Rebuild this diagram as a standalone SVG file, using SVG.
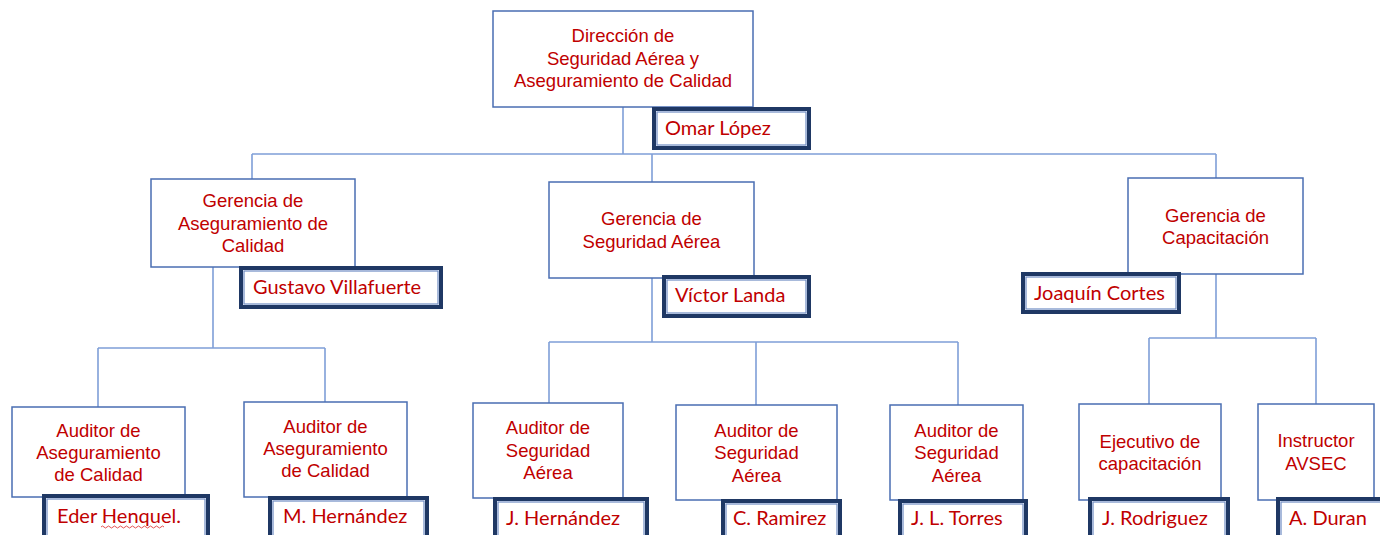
<svg xmlns="http://www.w3.org/2000/svg" width="1380" height="535" viewBox="0 0 1380 535">
<style>
  .box { fill: #ffffff; stroke: #4a6eb2; stroke-width: 1.5; }
  .nb-out { fill: #ffffff; stroke: #1f3864; stroke-width: 4; }
  .nb-in { fill: none; stroke: #6f8cc4; stroke-width: 1.2; }
  .t { font-family: "Liberation Sans", Arial, sans-serif; font-size: 18.5px; fill: #c00000; text-anchor: middle; }
  .n { font-family: Lato, "Liberation Sans", sans-serif; font-size: 20px; fill: #c00000; }
  .c { fill: none; stroke: #7f9fd8; stroke-width: 1.6; }
</style>
<rect width="1380" height="535" fill="#ffffff"/>

<g id="connectors">
  <path class="c" d="M623 107 V154 M252 154 H1216 M252 154 V179 M652 154 V182 M1216 154 V178"/>
  <path class="c" d="M213 267 V348 M98 348 H325 M98 348 V407 M325 348 V402"/>
  <path class="c" d="M652 278 V342 M549 342 H958 M549 342 V403 M756 342 V405 M958 342 V405"/>
  <path class="c" d="M1216 274 V338 M1149 338 H1316 M1149 338 V404 M1316 338 V404"/>
</g>

<g id="direccion">
  <rect class="box" x="493" y="11" width="260" height="96"/>
  <text class="t" x="623" y="42">Dirección de</text>
  <text class="t" x="623" y="64.5">Seguridad Aérea y</text>
  <text class="t" x="623" y="87">Aseguramiento de Calidad</text>
</g>
<g id="name-omar">
  <rect class="nb-out" x="654" y="109" width="155" height="39"/>
  <rect class="nb-in" x="657" y="112" width="149" height="33"/>
  <text class="n" x="665" y="135">Omar López</text>
</g>

<g id="gerencia-aseguramiento">
  <rect class="box" x="151" y="179" width="204" height="88"/>
  <text class="t" x="253" y="207">Gerencia de</text>
  <text class="t" x="253" y="229.5">Aseguramiento de</text>
  <text class="t" x="253" y="252">Calidad</text>
</g>
<g id="name-gustavo">
  <rect class="nb-out" x="241" y="268" width="200" height="39"/>
  <rect class="nb-in" x="244" y="271" width="194" height="33"/>
  <text class="n" x="253" y="294">Gustavo Villafuerte</text>
</g>

<g id="gerencia-seguridad">
  <rect class="box" x="549" y="182" width="205" height="96"/>
  <text class="t" x="651.5" y="225">Gerencia de</text>
  <text class="t" x="651.5" y="248">Seguridad Aérea</text>
</g>
<g id="name-victor">
  <rect class="nb-out" x="664" y="277" width="145" height="39"/>
  <rect class="nb-in" x="667" y="280" width="139" height="33"/>
  <text class="n" x="675" y="302">Víctor Landa</text>
</g>

<g id="gerencia-capacitacion">
  <rect class="box" x="1128" y="178" width="175" height="96"/>
  <text class="t" x="1215.5" y="222">Gerencia de</text>
  <text class="t" x="1215.5" y="244">Capacitación</text>
</g>
<g id="name-joaquin">
  <rect class="nb-out" x="1023" y="274" width="156" height="38"/>
  <rect class="nb-in" x="1026" y="277" width="150" height="32"/>
  <text class="n" x="1034" y="300">Joaquín Cortes</text>
</g>

<g id="auditor-aseg-1">
  <rect class="box" x="12" y="407" width="173" height="90"/>
  <text class="t" x="98.5" y="437">Auditor de</text>
  <text class="t" x="98.5" y="459">Aseguramiento</text>
  <text class="t" x="98.5" y="481">de Calidad</text>
</g>
<g id="name-eder">
  <rect class="nb-out" x="44" y="496" width="164" height="50"/>
  <rect class="nb-in" x="47" y="499" width="158" height="44"/>
  <text class="n" x="57" y="523">Eder Henquel.</text>
  <path d="M101 527 q1.5 -2 3 0 t3 0 t3 0 t3 0 t3 0 t3 0 t3 0 t3 0 t3 0 t3 0 t3 0 t3 0 t3 0 t3 0 t3 0 t3 0 t3 0 t3 0 t3 0 t3 0 t3 0" fill="none" stroke="#e04040" stroke-width="0.9"/>
</g>

<g id="auditor-aseg-2">
  <rect class="box" x="244" y="402" width="163" height="95"/>
  <text class="t" x="325.5" y="433">Auditor de</text>
  <text class="t" x="325.5" y="455">Aseguramiento</text>
  <text class="t" x="325.5" y="477">de Calidad</text>
</g>
<g id="name-mhernandez">
  <rect class="nb-out" x="270" y="498" width="157" height="48"/>
  <rect class="nb-in" x="273" y="501" width="151" height="42"/>
  <text class="n" x="283" y="523">M. Hernández</text>
</g>

<g id="auditor-seg-1">
  <rect class="box" x="473" y="403" width="150" height="95"/>
  <text class="t" x="548" y="434">Auditor de</text>
  <text class="t" x="548" y="457">Seguridad</text>
  <text class="t" x="548" y="479">Aérea</text>
</g>
<g id="name-jhernandez">
  <rect class="nb-out" x="495" y="499" width="152" height="47"/>
  <rect class="nb-in" x="498" y="502" width="146" height="41"/>
  <text class="n" x="506" y="525">J. Hernández</text>
</g>

<g id="auditor-seg-2">
  <rect class="box" x="676" y="405" width="161" height="95"/>
  <text class="t" x="756.5" y="437">Auditor de</text>
  <text class="t" x="756.5" y="459">Seguridad</text>
  <text class="t" x="756.5" y="482">Aérea</text>
</g>
<g id="name-cramirez">
  <rect class="nb-out" x="723" y="501" width="117" height="45"/>
  <rect class="nb-in" x="726" y="504" width="111" height="39"/>
  <text class="n" x="733" y="525">C. Ramirez</text>
</g>

<g id="auditor-seg-3">
  <rect class="box" x="890" y="405" width="133" height="95"/>
  <text class="t" x="956.5" y="437">Auditor de</text>
  <text class="t" x="956.5" y="459">Seguridad</text>
  <text class="t" x="956.5" y="482">Aérea</text>
</g>
<g id="name-jltorres">
  <rect class="nb-out" x="900" y="501" width="126" height="45"/>
  <rect class="nb-in" x="903" y="504" width="120" height="39"/>
  <text class="n" x="911" y="525">J. L. Torres</text>
</g>

<g id="ejecutivo">
  <rect class="box" x="1079" y="404" width="142" height="96"/>
  <text class="t" x="1150" y="448">Ejecutivo de</text>
  <text class="t" x="1150" y="470">capacitación</text>
</g>
<g id="name-jrodriguez">
  <rect class="nb-out" x="1090" y="499" width="138" height="47"/>
  <rect class="nb-in" x="1093" y="502" width="132" height="41"/>
  <text class="n" x="1102" y="525">J. Rodriguez</text>
</g>

<g id="instructor">
  <rect class="box" x="1258" y="404" width="116" height="96"/>
  <text class="t" x="1316" y="447">Instructor</text>
  <text class="t" x="1316" y="470">AVSEC</text>
</g>
<g id="name-aduran">
  <rect class="nb-out" x="1278" y="499" width="110" height="47"/>
  <rect class="nb-in" x="1281" y="502" width="104" height="41"/>
  <text class="n" x="1289" y="525">A. Duran</text>
</g>
</svg>
